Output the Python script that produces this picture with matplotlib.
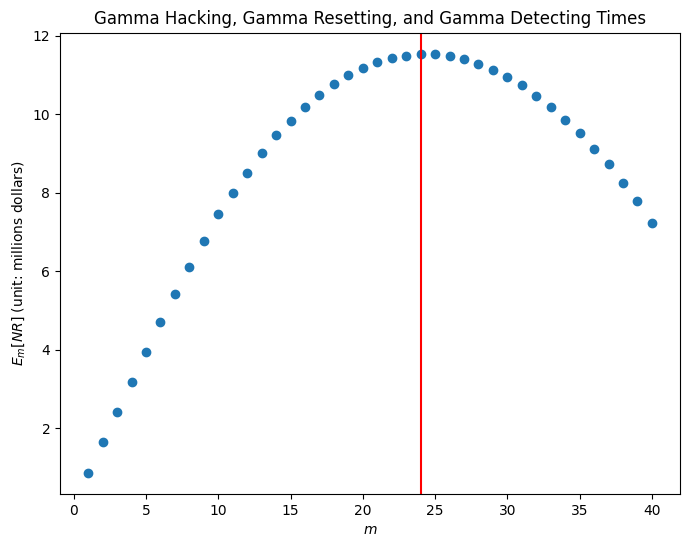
import numpy as np
import matplotlib
matplotlib.use('Agg')
import matplotlib.pyplot as plt

# expected net reward for each m
m_values = list(range(1, 41))
expected_nr = [0.86, 1.65, 2.42, 3.17, 3.93, 4.70, 5.43, 6.12, 6.78, 7.45,
               8.00, 8.51, 9.02, 9.46, 9.84, 10.19, 10.50, 10.78, 11.01, 11.19,
               11.34, 11.44, 11.49, 11.54, 11.54, 11.49, 11.41, 11.29, 11.13, 10.96,
               10.75, 10.47, 10.19, 9.86, 9.53, 9.12, 8.72, 8.26, 7.78, 7.24]
best_m = 24

fig = plt.figure(figsize=(6.89, 5.47), dpi=100)
ax = fig.add_axes([0.0871, 0.097, 0.9, 0.843])
ax.scatter(m_values, expected_nr)
ax.axvline(best_m, color='red')
ax.set_title('Gamma Hacking, Gamma Resetting, and Gamma Detecting Times')
ax.set_xlabel(r'$m$')
ax.set_ylabel(r'$E_m[NR]$ (unit: millions dollars)')
fig.savefig('out.png', dpi=100)
